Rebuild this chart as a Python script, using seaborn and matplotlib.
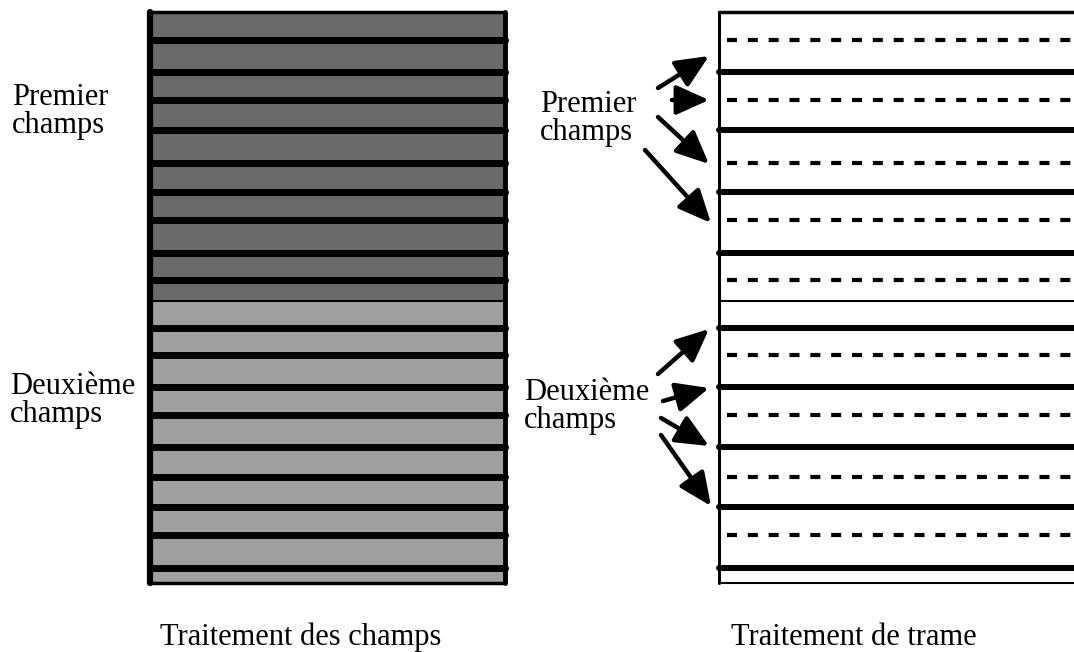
import numpy as np
import pandas as pd
import seaborn as sns
import matplotlib
matplotlib.use('Agg')
import matplotlib.pyplot as plt

# Positions des lignes (en pixels, origine en haut a gauche)
top_y = 12
bottom_y = 583
split_y = 301          # separation entre premier et deuxieme champ
dashed_y = [40, 100, 163, 220, 280, 355, 415, 477, 535]
solid_y = [72, 130, 192, 253, 328, 387, 447, 507, 568]
left_x = [150, 505]
right_x = [719, 1080]

# Fleches : (depart x, depart y, pointe x, pointe y)
arrows_premier = [(658, 88, 709, 56), (672, 100, 709, 100),
                  (658, 117, 709, 164), (645, 150, 711, 223)]
arrows_deuxieme = [(658, 374, 709, 329), (663, 401, 709, 388),
                   (661, 418, 709, 446), (661, 435, 711, 506)]

# (texte, x, ligne de base)
labels = [('Premier', 12, 105), ('champs', 12, 133),
          ('Deuxième', 10, 394), ('champs', 10, 422),
          ('Premier', 540, 112), ('champs', 540, 140),
          ('Deuxième', 524, 400), ('champs', 524, 428)]
captions = [('Traitement des champs', 160, 645), ('Traitement de trame', 731, 645)]


def lignes(ys, x0, x1):
    return pd.DataFrame({'x': [x0, x1] * len(ys),
                         'y': np.repeat(ys, 2),
                         'ligne': np.repeat(np.arange(len(ys)), 2)})


sns.set_theme(style='white')
plt.rcParams['font.family'] = ['Liberation Serif', 'DejaVu Serif']

fig = plt.figure(figsize=(10.74, 6.52), dpi=100)
ax = fig.add_axes([0, 0, 1, 1])

# Panneau gauche : trame grise, plus sombre pour le premier champ
ax.fill_between(left_x, top_y, split_y, color='#6a6a6a', lw=0)
ax.fill_between(left_x, split_y, bottom_y, color='#a0a0a0', lw=0)
all_y = sorted(dashed_y + solid_y)
sns.lineplot(data=lignes(all_y, *left_x), x='x', y='y', units='ligne',
             estimator=None, sort=False, color='black', lw=5, ax=ax)
sns.lineplot(data=lignes([split_y], *left_x), x='x', y='y', units='ligne',
             estimator=None, sort=False, color='black', lw=1.5, ax=ax)
ax.plot([left_x[0], left_x[0]], [top_y, bottom_y], color='black', lw=4.5)
ax.plot([left_x[1], left_x[1]], [top_y, bottom_y], color='black', lw=3.5)
ax.plot(left_x, [top_y, top_y], color='black', lw=2.5)
ax.plot(left_x, [bottom_y, bottom_y], color='black', lw=2.5)

# Panneau droit : lignes pleines et pointillees
sns.lineplot(data=lignes(solid_y, *right_x), x='x', y='y', units='ligne',
             estimator=None, sort=False, color='black', lw=4.3, ax=ax)
sns.lineplot(data=lignes(dashed_y, right_x[0] + 8, right_x[1]), x='x', y='y',
             units='ligne', estimator=None, sort=False, color='black', lw=3,
             linestyle=(0, (2.4, 2.6)), ax=ax)
sns.lineplot(data=lignes([split_y], *right_x), x='x', y='y', units='ligne',
             estimator=None, sort=False, color='black', lw=1.5, ax=ax)
ax.plot([right_x[0], right_x[0]], [top_y, bottom_y], color='black', lw=2.2)
ax.plot(right_x, [top_y, top_y], color='black', lw=2.5)
ax.plot(right_x, [bottom_y, bottom_y], color='black', lw=1.5)

for x0, y0, x1, y1 in arrows_premier + arrows_deuxieme:
    ax.annotate('', xy=(x1, y1), xytext=(x0, y0),
                arrowprops=dict(arrowstyle='-|>,head_length=1.0,head_width=0.45',
                                mutation_scale=20, color='black', lw=3.2,
                                shrinkA=0, shrinkB=0))

for txt, x, y in labels + captions:
    ax.text(x, y, txt, fontsize=22, ha='left', va='baseline', color='black')

ax.set_xlim(0, 1074)
ax.set_ylim(652, 0)
ax.axis('off')
fig.savefig('out.png', dpi=100)
